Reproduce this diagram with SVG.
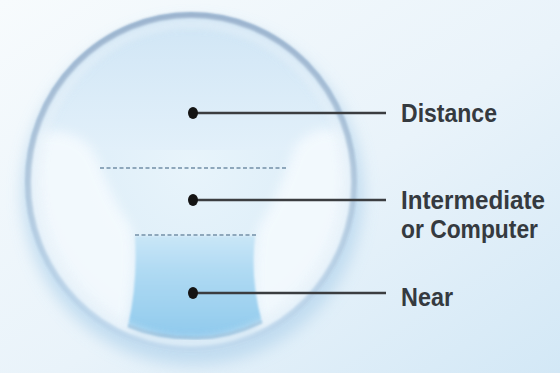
<svg xmlns="http://www.w3.org/2000/svg" width="560" height="373" viewBox="0 0 560 373">
  <defs>
    <linearGradient id="bg" x1="0" y1="0" x2="1" y2="1">
      <stop offset="0" stop-color="#f7fbfd"/>
      <stop offset="0.55" stop-color="#e9f3fa"/>
      <stop offset="1" stop-color="#d3e8f6"/>
    </linearGradient>
    <radialGradient id="lensFill" cx="0.5" cy="0.45" r="0.55">
      <stop offset="0" stop-color="#e8f4fb"/>
      <stop offset="0.78" stop-color="#dcedf8"/>
      <stop offset="1" stop-color="#cde4f4"/>
    </radialGradient>
    <linearGradient id="topZone" x1="0" y1="0" x2="0" y2="1">
      <stop offset="0" stop-color="#cfe5f5"/>
      <stop offset="1" stop-color="#e2f0fa"/>
    </linearGradient>
    <linearGradient id="nearFill" x1="0" y1="0" x2="0" y2="1">
      <stop offset="0" stop-color="#c9e6f7"/>
      <stop offset="0.35" stop-color="#afdaf3"/>
      <stop offset="1" stop-color="#90caed"/>
    </linearGradient>
    <linearGradient id="rimStroke" x1="0" y1="0" x2="0" y2="1">
      <stop offset="0" stop-color="#97b0cc"/>
      <stop offset="0.45" stop-color="#a9c2d9"/>
      <stop offset="1" stop-color="#b9d5ec"/>
    </linearGradient>
    <clipPath id="lensClip">
      <ellipse cx="191" cy="182" rx="164" ry="168"/>
    </clipPath>
    <filter id="soft8" x="-20%" y="-20%" width="140%" height="140%">
      <feGaussianBlur stdDeviation="8"/>
    </filter>
    <filter id="soft4" x="-20%" y="-20%" width="140%" height="140%">
      <feGaussianBlur stdDeviation="4"/>
    </filter>
    <filter id="soft6" x="-20%" y="-20%" width="140%" height="140%">
      <feGaussianBlur stdDeviation="6"/>
    </filter>
    <filter id="soft1" x="-10%" y="-10%" width="120%" height="120%">
      <feGaussianBlur stdDeviation="1.2"/>
    </filter>
    <style>
      .zone-dash { fill: none; stroke: #8ea7bb; stroke-width: 2.2; stroke-dasharray: 4 2.5; }
      .leader { stroke: #3b3d40; stroke-width: 2.6; fill: none; }
      .dot { fill: #141414; }
      .label { font-family: "Liberation Sans", Arial, sans-serif; font-weight: bold; font-size: 25.8px; fill: #353a3f; }
    </style>
  </defs>

  <!-- background -->
  <rect width="560" height="373" fill="url(#bg)"/>

  <!-- soft blue halo under the lens -->
  <ellipse cx="193" cy="193" rx="170" ry="172" fill="#bad8ee" filter="url(#soft8)" opacity="0.85"/>

  <g id="lens">
    <ellipse cx="191" cy="182" rx="166" ry="170" fill="url(#lensFill)"/>
    <g clip-path="url(#lensClip)">
      <!-- distance zone tint -->
      <rect x="20" y="10" width="345" height="140" fill="url(#topZone)"/>
      <!-- peripheral (white) zones -->
      <path d="M10 128 L60 132 Q88 136 98 160 Q112 200 132 228 Q137 260 131 300 L128 360 L10 360 Z" fill="#f6fbfe" opacity="0.85" filter="url(#soft6)"/>
      <path d="M372 126 L320 130 Q296 136 290 160 Q276 200 258 228 Q252 260 255 300 L264 360 L372 360 Z" fill="#f6fbfe" opacity="0.85" filter="url(#soft6)"/>
      <!-- near zone -->
      <path d="M135 236 L255 236 Q250 280 262 322 Q226 340 190 338 Q156 338 128 326 Q138 282 135 236 Z" fill="url(#nearFill)" filter="url(#soft1)"/>
      <path d="M128 326 Q156 338 190 338 Q226 340 262 322" fill="none" stroke="#7cafd3" stroke-width="3" filter="url(#soft1)"/>
      <!-- inner shading along the edge -->
      <ellipse cx="191" cy="182" rx="160" ry="164" fill="none" stroke="#c4def1" stroke-width="10" opacity="0.7" filter="url(#soft6)"/>
    </g>
    <!-- rim -->
    <ellipse cx="191" cy="182" rx="163" ry="167" fill="none" stroke="url(#rimStroke)" stroke-width="6" filter="url(#soft1)"/>
    <ellipse cx="191" cy="183" rx="156" ry="160" fill="none" stroke="#ffffff" stroke-width="5" opacity="0.65" filter="url(#soft4)"/>
  </g>

  <!-- zone boundaries -->
  <g id="zone-lines">
    <line class="zone-dash" x1="100" y1="168" x2="288" y2="168"/>
    <line class="zone-dash" x1="135" y1="235" x2="256" y2="235"/>
  </g>

  <!-- connectors -->
  <g id="connectors">
    <line class="leader" x1="193" y1="113" x2="386" y2="113"/>
    <line class="leader" x1="193" y1="200" x2="386" y2="200"/>
    <line class="leader" x1="193" y1="293" x2="386" y2="293"/>
  </g>

  <g id="node-distance">
    <ellipse class="dot" cx="193" cy="113" rx="5" ry="6"/>
    <text class="label" x="401" y="122" textLength="96" lengthAdjust="spacingAndGlyphs">Distance</text>
  </g>
  <g id="node-intermediate">
    <ellipse class="dot" cx="193" cy="200" rx="5" ry="6"/>
    <text class="label" x="401" y="209" textLength="144" lengthAdjust="spacingAndGlyphs">Intermediate</text>
    <text class="label" x="401" y="238" textLength="137" lengthAdjust="spacingAndGlyphs">or Computer</text>
  </g>
  <g id="node-near">
    <ellipse class="dot" cx="193" cy="293" rx="5" ry="6"/>
    <text class="label" x="401" y="306" textLength="52" lengthAdjust="spacingAndGlyphs">Near</text>
  </g>
</svg>
